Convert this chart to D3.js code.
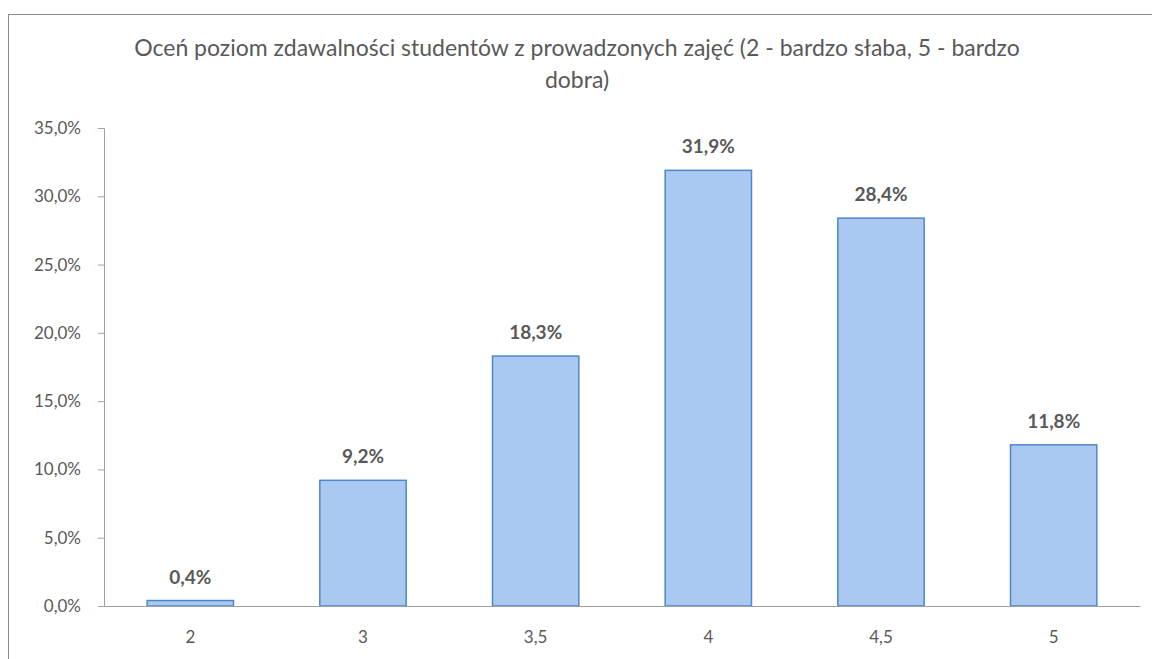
<!DOCTYPE html>
<html>
<head>
<meta charset="utf-8">
<script src="https://cdn.jsdelivr.net/npm/d3@7"></script>
<style>
  body { margin: 0; background: #fff; }
  text { font-family: Lato, "Open Sans", sans-serif; }
</style>
</head>
<body>
<div id="chart"></div>
<script>
// data
var categories = ["2", "3", "3,5", "4", "4,5", "5"]
var values = [0.4, 9.2, 18.3, 31.9, 28.4, 11.8]
var yTicks = [0, 5, 10, 15, 20, 25, 30, 35]
var titleLines = ["Oceń poziom zdawalności studentów z prowadzonych zajęć (2 - bardzo słaba, 5 - bardzo", "dobra)"]

var W = 1152, H = 659
var margin = { top: 128, right: 12, bottom: 53, left: 104 },
    width = W - margin.left - margin.right,
    height = H - margin.top - margin.bottom

var svg = d3.select("#chart").append("svg")
    .attr("width", W)
    .attr("height", H)

// outer chart border (cut off on right and bottom)
svg.append("rect")
    .attr("x", 8.5).attr("y", 14.5)
    .attr("width", 1200).attr("height", 700)
    .attr("fill", "none")
    .attr("stroke", "#8c8c8c")
    .attr("stroke-width", 1)

// title
svg.append("text")
    .attr("x", 577)
    .attr("y", 56)
    .attr("text-anchor", "middle")
    .attr("font-size", "23px")
    .attr("fill", "#595959")
    .selectAll("tspan")
    .data(titleLines)
    .enter().append("tspan")
    .attr("x", 577)
    .attr("dy", function (d, i) { return i == 0 ? 0 : 32 })
    .text(function (d) { return d })

var g = svg.append("g")
    .attr("transform", "translate(" + margin.left + "," + margin.top + ")")

var x = d3.scaleBand()
    .domain(categories)
    .range([0, width])
    .paddingInner(0.5)
    .paddingOuter(0.25)

var y = d3.scaleLinear()
    .domain([0, 35])
    .range([height, 0])

// y axis
var yAxis = g.append("g")
    .call(d3.axisLeft(y).tickValues(yTicks).tickSize(6).tickPadding(17)
        .tickFormat(function (d) { return d.toFixed(1).replace(".", ",") + "%" }))
yAxis.select(".domain").attr("stroke", "#a0a0a8")
yAxis.selectAll(".tick line").attr("stroke", "#a0a0a8")
yAxis.selectAll("text")
    .attr("font-size", "17px")
    .attr("fill", "#595959")
    .style("font-family", "Lato, 'Open Sans', sans-serif")

// bars
g.append("g")
    .selectAll("rect")
    .data(values)
    .enter().append("rect")
    .attr("x", function (d, i) { return x(categories[i]) })
    .attr("y", function (d) { return y(d) })
    .attr("width", x.bandwidth())
    .attr("height", function (d) { return height - y(d) })
    .attr("fill", "#a9c9f2")
    .attr("stroke", "#4f86c6")
    .attr("stroke-width", 1.5)

// x axis
var xAxis = g.append("g")
    .attr("transform", "translate(0," + height + ")")
    .call(d3.axisBottom(x).tickSize(0).tickPadding(25))
xAxis.select(".domain").attr("stroke", "#a0a0a0")
xAxis.selectAll("text")
    .attr("font-size", "17px")
    .attr("fill", "#595959")
    .style("font-family", "Lato, 'Open Sans', sans-serif")

// value labels
g.append("g")
    .selectAll("text")
    .data(values)
    .enter().append("text")
    .attr("x", function (d, i) { return x(categories[i]) + x.bandwidth() / 2 })
    .attr("y", function (d) { return y(d) - 17 })
    .attr("text-anchor", "middle")
    .attr("font-size", "19px")
    .attr("font-weight", "bold")
    .attr("fill", "#595959")
    .text(function (d) { return d.toFixed(1).replace(".", ",") + "%" })
</script>
</body>
</html>
